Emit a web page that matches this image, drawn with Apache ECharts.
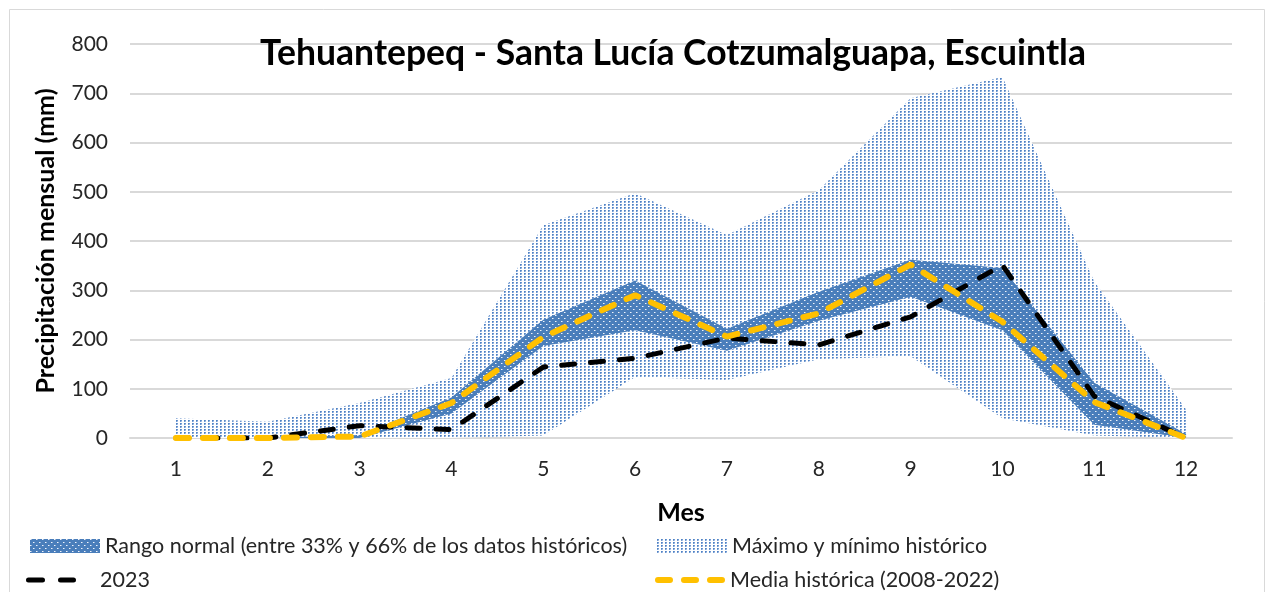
<!DOCTYPE html>
<html>
<head>
<meta charset="utf-8">
<script src="https://cdn.jsdelivr.net/npm/echarts@6/dist/echarts.min.js"></script>
<style>
  html, body { margin: 0; padding: 0; background: #fff; }
  #chart { width: 1265px; height: 592px; }
</style>
</head>
<body>
<div id="chart"></div>
<script>
// Monthly precipitation (mm), Santa Lucía Cotzumalguapa
const months = ['1', '2', '3', '4', '5', '6', '7', '8', '9', '10', '11', '12'];
const histMin = [0, 0, 0, 0, 5, 124, 118, 160, 166, 40, 5, 0];
const histMax = [40, 33, 71, 122, 432, 497, 412, 503, 690, 733, 318, 58];
const normalLow = [0, 0, 0, 50, 187, 219, 177, 238, 287, 219, 27, 0];
const normalHigh = [0, 0, 6, 82, 240, 320, 222, 297, 362, 345, 112, 8];
const year2023 = [0, 0, 25, 17, 144, 162, 203, 189, 246, 351, 85, 0];
const histMean = [0, 0, 3, 71, 205, 290, 206, 253, 352, 236, 73, 0];
const yTicks = [0, 100, 200, 300, 400, 500, 600, 700, 800];

const FONT = 'Lato, "Open Sans", sans-serif';

// dotted fill patterns for the two shaded ranges
function makePattern(w, h, bg, dots) {
  const c = document.createElement('canvas');
  c.width = w; c.height = h;
  const ctx = c.getContext('2d');
  if (bg) { ctx.fillStyle = bg; ctx.fillRect(0, 0, w, h); }
  dots.forEach(([x, y, col]) => { ctx.fillStyle = col; ctx.fillRect(x, y, 1, 1); });
  return { image: c, repeat: 'repeat' };
}
const lightPattern = makePattern(4, 3, '#ffffff', [
  [0, 0, '#4f82c4'], [1, 0, '#6f98d0'], [0, 1, '#6f98d0'], [1, 1, '#a9c2e6']
]);
const darkPattern = makePattern(6, 6, '#4a7ebb', [
  [0, 0, '#f0f4fa'], [1, 0, '#9db8dc'], [3, 3, '#f0f4fa'], [4, 3, '#9db8dc']
]);

const diff = (hi, lo) => hi.map((v, i) => v - lo[i]);

// legend glyphs: short dashes, padded with hair-thin corner marks so the
// path keeps its own proportions inside the legend icon box
function dashIcon(w, h, thick, segs) {
  const y0 = (h - thick) / 2, r = thick / 2;
  let p = 'path://M0,0L0.01,0L0,0.01Z M' + w + ',' + h + 'L' + (w - 0.01) + ',' + h + 'L' + w + ',' + (h - 0.01) + 'Z';
  segs.forEach(([a, b]) => {
    p += ' M' + (a + r) + ',' + y0 + 'L' + (b - r) + ',' + y0 +
      'A' + r + ',' + r + ',0,0,1,' + (b - r) + ',' + (y0 + thick) +
      'L' + (a + r) + ',' + (y0 + thick) +
      'A' + r + ',' + r + ',0,0,1,' + (a + r) + ',' + y0 + 'Z';
  });
  return p;
}

const chart = echarts.init(document.getElementById('chart'), null, { renderer: 'canvas' });

const NAME_NORMAL = 'Rango normal (entre 33% y 66% de los datos históricos)';
const NAME_MAXMIN = 'Máximo y mínimo histórico';
const NAME_2023 = '2023';
const NAME_MEAN = 'Media histórica (2008-2022)';

const legendText = { fontFamily: FONT, fontSize: 21.5, color: '#262626' };

chart.setOption({
  backgroundColor: '#fff',
  animation: false,
  title: {
    text: 'Tehuantepeq - Santa Lucía Cotzumalguapa, Escuintla',
    left: 668, top: 31, textAlign: 'center',
    textStyle: { fontFamily: FONT, fontSize: 35.5, fontWeight: 'bold', color: '#000' }
  },
  graphic: [{
    type: 'rect', left: 7, top: 7, z: -10,
    shape: { width: 1255, height: 600 },
    style: { fill: 'none', stroke: '#d9d9d9', lineWidth: 1 }
  }],
  grid: { left: 130, right: 33, top: 44, bottom: 154 },
  legend: [
    { data: [{ name: NAME_NORMAL, icon: 'rect', itemStyle: { color: darkPattern } }],
      left: 25, top: 530, itemWidth: 70, itemHeight: 14,
      textStyle: legendText, selectedMode: false },
    { data: [{ name: NAME_MAXMIN, icon: 'rect', itemStyle: { color: lightPattern } }],
      left: 652, top: 530, itemWidth: 70, itemHeight: 14,
      textStyle: legendText, selectedMode: false },
    { data: [{ name: NAME_2023, icon: dashIcon(78, 18, 5, [[18, 37], [50, 68]]),
               itemStyle: { color: '#000' } }],
      left: 3, top: 564, itemWidth: 96, itemHeight: 18,
      textStyle: legendText, selectedMode: false },
    { data: [{ name: NAME_MEAN, icon: dashIcon(70, 18, 6, [[0, 18], [26, 44], [52, 70]]),
               itemStyle: { color: '#ffc000' } }],
      left: 650, top: 564, itemWidth: 70, itemHeight: 18,
      textStyle: legendText, selectedMode: false }
  ],
  xAxis: {
    type: 'category', data: months, boundaryGap: true,
    name: 'Mes', nameLocation: 'middle', nameGap: 62,
    nameTextStyle: { fontFamily: FONT, fontSize: 25, fontWeight: 'bold', color: '#000' },
    axisLine: { lineStyle: { color: '#d9d9d9', width: 2 } },
    axisTick: { show: false },
    axisLabel: { fontFamily: FONT, fontSize: 21, color: '#262626', margin: 21 }
  },
  yAxis: {
    type: 'value', min: yTicks[0], max: yTicks[yTicks.length - 1], interval: 100,
    name: 'Precipitación mensual (mm)', nameLocation: 'middle', nameGap: 72,
    nameTextStyle: { fontFamily: FONT, fontSize: 25, fontWeight: 'bold', color: '#000' },
    axisLine: { show: false },
    axisTick: { show: false },
    splitLine: { lineStyle: { color: '#d9d9d9', width: 2 } },
    axisLabel: { fontFamily: FONT, fontSize: 21, color: '#262626', margin: 22 }
  },
  series: [
    { name: 'minBase', type: 'line', stack: 'maxmin', data: histMin,
      symbol: 'none', lineStyle: { width: 0, opacity: 0 }, silent: true, z: 1 },
    { name: NAME_MAXMIN, type: 'line', stack: 'maxmin', data: diff(histMax, histMin),
      symbol: 'none', lineStyle: { width: 0, opacity: 0 },
      itemStyle: { color: '#7fa3d4' },
      areaStyle: { color: lightPattern, opacity: 1 }, z: 1 },
    { name: 'lowBase', type: 'line', stack: 'normal', data: normalLow,
      symbol: 'none', lineStyle: { width: 0, opacity: 0 }, silent: true, z: 2 },
    { name: NAME_NORMAL, type: 'line', stack: 'normal', data: diff(normalHigh, normalLow),
      symbol: 'none', lineStyle: { width: 0, opacity: 0 },
      itemStyle: { color: '#4a7ebb' },
      areaStyle: { color: darkPattern, opacity: 1 }, z: 2 },
    { name: NAME_2023, type: 'line', data: year2023, symbol: 'none',
      itemStyle: { color: '#000' },
      lineStyle: { color: '#000', width: 5, type: [13, 16], cap: 'round' }, z: 3 },
    { name: NAME_MEAN, type: 'line', data: histMean, symbol: 'none',
      itemStyle: { color: '#ffc000' },
      lineStyle: { color: '#ffc000', width: 6, type: [13, 14], cap: 'round' }, z: 4 }
  ]
});
</script>
</body>
</html>
